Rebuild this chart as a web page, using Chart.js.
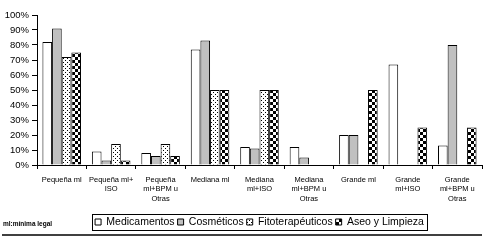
<!DOCTYPE html>
<html>
<head>
<meta charset="utf-8">
<script src="https://cdn.jsdelivr.net/npm/chart.js@4/dist/chart.umd.min.js"></script>
<style>
  html, body { margin: 0; padding: 0; background: #fff; }
  #wrap { width: 485px; height: 243px; }
</style>
</head>
<body>
<div id="wrap"><canvas id="myChart" width="485" height="243"></canvas></div>
<script>
const categorias = [
  'Pequeña ml', ['Pequeña ml+', 'ISO'], ['Pequeña', 'ml+BPM u', 'Otras'],
  'Mediana ml', ['Mediana', 'ml+ISO'], ['Mediana', 'ml+BPM u', 'Otras'],
  'Grande ml', ['Grande', 'ml+ISO'], ['Grande', 'ml+BPM u', 'Otras']
];
const medicamentos = [82, 9, 8, 77, 12, 12, 20, 67, 13];
const cosmeticos = [91, 3, 6, 83, 11, 5, 20, 0, 80];
const fitoterapeuticos = [72, 14, 14, 50, 50, 0, 0, 0, 0];
const aseo = [75, 3, 6, 50, 50, 0, 50, 25, 25];
const yTicks = [0, 10, 20, 30, 40, 50, 60, 70, 80, 90, 100];

// patrones de relleno
const makePattern = (size, draw) => {
  const c = document.createElement('canvas');
  c.width = size; c.height = size;
  const g = c.getContext('2d');
  g.fillStyle = '#fff';
  g.fillRect(0, 0, size, size);
  g.fillStyle = '#000';
  draw(g);
  return document.getElementById('myChart').getContext('2d').createPattern(c, 'repeat');
};
const puntos = makePattern(4, g => { g.fillRect(1, 0, 1, 1); g.fillRect(3, 2, 1, 1); });
const cuadros = makePattern(6, g => { g.fillRect(0, 0, 3, 3); g.fillRect(3, 3, 3, 3); });

const serie = (label, data, bg) => ({
  label, data,
  backgroundColor: bg,
  borderColor: '#000',
  borderWidth: 1,
  categoryPercentage: 0.78,
  barPercentage: 1
});

const extras = {
  id: 'extras',
  afterDraw(chart) {
    const ctx = chart.ctx;
    const hb = chart.legend.legendHitBoxes;
    if (hb && hb.length) {
      const left = Math.min(...hb.map(h => h.left));
      const right = Math.max(...hb.map(h => h.left + h.width));
      ctx.save();
      ctx.strokeStyle = '#000';
      ctx.lineWidth = 1;
      ctx.strokeRect(Math.round(left - 3) + 0.5, 214.5, Math.round(right - left + 6), 16);
      ctx.restore();
    }
    ctx.save();
    ctx.fillStyle = '#000';
    ctx.font = 'bold 6.5px Arial, "Liberation Sans"';
    ctx.textBaseline = 'middle';
    ctx.fillText('ml:mínima legal', 3, 224);
    ctx.strokeStyle = '#000';
    ctx.lineWidth = 1.5;
    ctx.beginPath();
    ctx.moveTo(2, 235);
    ctx.lineTo(482, 235);
    ctx.stroke();
    ctx.restore();
  }
};

const config = {
  type: 'bar',
  data: {
    labels: categorias,
    datasets: [
      serie('Medicamentos', medicamentos, '#fff'),
      serie('Cosméticos', cosmeticos, '#c0c0c0'),
      serie('Fitoterapéuticos', fitoterapeuticos, puntos),
      serie('Aseo y Limpieza', aseo, cuadros)
    ]
  },
  options: {
    responsive: false,
    animation: false,
    layout: { padding: { left: 0, right: 3, top: 15, bottom: 5.75 } },
    plugins: {
      tooltip: { enabled: false },
      legend: {
        position: 'bottom',
        fullSize: false,
        labels: {
          boxWidth: 6,
          boxHeight: 6,
          padding: 3,
          color: '#000',
          font: { family: 'Arial, "Liberation Sans"', size: 10.5 }
        }
      }
    },
    scales: {
      x: {
        afterFit: s => { s.height = 48.75; },
        grid: { drawOnChartArea: false, color: '#000', tickLength: 4, offset: true },
        border: { color: '#000', width: 1 },
        ticks: {
          color: '#000',
          maxRotation: 0,
          autoSkip: false,
          padding: 6,
          font: { family: 'Arial, "Liberation Sans"', size: 7.5, lineHeight: 1.25 }
        }
      },
      y: {
        min: 0,
        max: 100,
        afterFit: s => { s.width = 37; },
        afterBuildTicks: s => { s.ticks = yTicks.map(v => ({ value: v })); },
        grid: { drawOnChartArea: false, color: '#000', tickLength: 5 },
        border: { color: '#000', width: 1 },
        ticks: {
          color: '#000',
          padding: 3,
          callback: v => v + '%',
          font: { family: 'Arial, "Liberation Sans"', size: 9.5 }
        }
      }
    }
  },
  plugins: [extras]
};

new Chart(document.getElementById('myChart'), config);
</script>
</body>
</html>
